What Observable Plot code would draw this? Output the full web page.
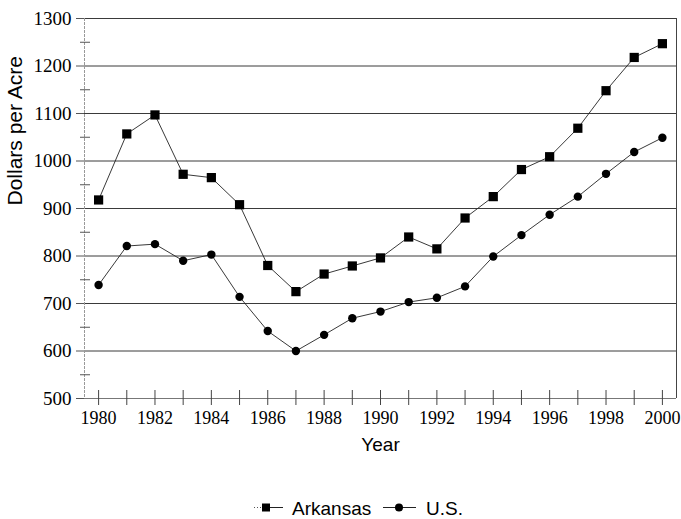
<!DOCTYPE html>
<html><head><meta charset="utf-8">
<script src="https://cdn.jsdelivr.net/npm/d3@7"></script>
<script src="https://cdn.jsdelivr.net/npm/@observablehq/plot@0.6"></script>
<style>
body{margin:0;background:#fff;}
#chart svg{display:block;}
#legend{display:block;}
</style>
</head><body>
<div id="chart"></div>
<script>
const years = [1980,1981,1982,1983,1984,1985,1986,1987,1988,1989,1990,1991,1992,1993,1994,1995,1996,1997,1998,1999,2000];
const arkansas = [918,1057,1097,972,965,908,780,725,762,779,796,840,815,880,925,982,1009,1069,1148,1218,1247];
const us = [739,821,825,790,803,714,642,600,634,669,683,703,712,736,799,844,887,925,973,1019,1049];
const yTicks = [500,600,700,800,900,1000,1100,1200,1300];
const yMinorTicks = [550,650,750,850,950,1050,1150,1250];
const xTickLabels = [1980,1982,1984,1986,1988,1990,1992,1994,1996,1998,2000];
const xDomain = [1979.5, 2000.5];
const yDomain = [500, 1300];
const seriesNames = ["Arkansas", "U.S."];

const serif = "serif";
const sans = "'Liberation Sans', Arial, sans-serif";

const ark = years.map((y, i) => ({year: y, value: arkansas[i]}));
const usa = years.map((y, i) => ({year: y, value: us[i]}));

const chart = Plot.plot({
  width: 681,
  height: 460,
  marginLeft: 84,
  marginRight: 5,
  marginTop: 18,
  marginBottom: 62,
  style: {fontSize: "18px", color: "black", background: "white"},
  x: {domain: xDomain, axis: null},
  y: {domain: yDomain, axis: null},
  marks: [
    Plot.ruleY(yTicks.filter(d => d > 500), {stroke: "#3a3a3a", strokeWidth: 1}),
    Plot.ruleX([xDomain[0]], {stroke: "#999", strokeWidth: 1, strokeDasharray: "3,1"}),
    Plot.ruleX([xDomain[1]], {stroke: "#444", strokeWidth: 1}),
    Plot.ruleY([yDomain[0]], {stroke: "#777", strokeWidth: 1}),
    Plot.axisY(yTicks, {anchor: "left", tickSize: 8, tickPadding: 5, stroke: "#555", fontSize: 19, tickFormat: d => String(d), label: null}),
    Plot.axisY(yMinorTicks, {anchor: "left", tickSize: 10, dx: 6, stroke: "#555", tickFormat: () => "", label: null}),
    Plot.axisX(years, {anchor: "bottom", tickSize: 15, dy: -8, stroke: "#444", tickFormat: () => "", label: null}),
    Plot.axisX(xTickLabels, {anchor: "bottom", tickSize: 0, tickPadding: 13, fontSize: 18, tickFormat: d => String(d), label: null}),
    Plot.line(ark, {x: "year", y: "value", stroke: "#222", strokeWidth: 0.9}),
    Plot.line(usa, {x: "year", y: "value", stroke: "#222", strokeWidth: 0.9}),
    Plot.dot(ark, {x: "year", y: "value", symbol: "square", r: 5.2, fill: "black", stroke: "none"}),
    Plot.dot(usa, {x: "year", y: "value", symbol: "circle", r: 4.2, fill: "black", stroke: "none"}),
    Plot.text(["Year"], {frameAnchor: "bottom", dy: 46, lineAnchor: "middle", fontFamily: sans, fontSize: 19, fill: "black"}),
    Plot.text(["Dollars per Acre"], {frameAnchor: "left", dx: -69, dy: -3, rotate: -90, fontFamily: sans, fontSize: 21, fill: "black"})
  ]
});
document.getElementById("chart").appendChild(chart);
chart.querySelectorAll('g[aria-label="y-axis tick label"], g[aria-label="x-axis tick label"]').forEach(g => {
  g.setAttribute("font-family", serif);
  g.querySelectorAll("text").forEach(t => t.setAttribute("font-family", serif));
});

// Legend below the chart
const leg = d3.select("body").append("svg").attr("id", "legend").attr("width", 681).attr("height", 59);
const cy = 47.5;
leg.append("line").attr("x1", 254).attr("x2", 263).attr("y1", cy).attr("y2", cy).attr("stroke", "#555").attr("stroke-dasharray", "1,2");
leg.append("rect").attr("x", 262).attr("y", cy - 4).attr("width", 8).attr("height", 8).attr("fill", "black");
leg.append("line").attr("x1", 270).attr("x2", 283).attr("y1", cy).attr("y2", cy).attr("stroke", "#222");
leg.append("text").attr("x", 292).attr("y", 55).attr("font-family", sans).attr("font-size", 19).text(seriesNames[0]);
leg.append("line").attr("x1", 383).attr("x2", 416).attr("y1", cy).attr("y2", cy).attr("stroke", "#222");
leg.append("circle").attr("cx", 399).attr("cy", cy).attr("r", 4).attr("fill", "black");
leg.append("text").attr("x", 426).attr("y", 55).attr("font-family", sans).attr("font-size", 19).text(seriesNames[1]);
</script>
</body></html>
